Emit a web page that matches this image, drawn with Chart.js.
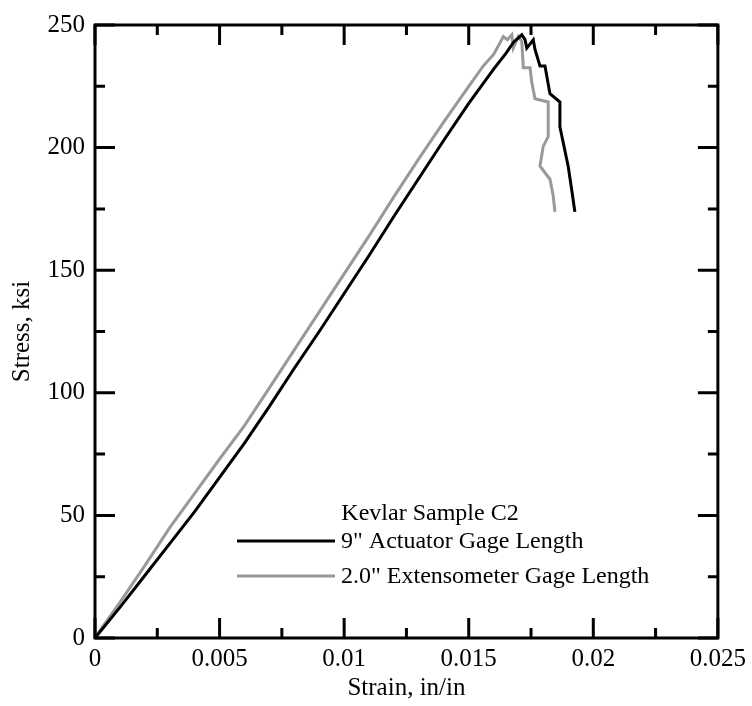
<!DOCTYPE html>
<html>
<head>
<meta charset="utf-8">
<script src="https://cdn.jsdelivr.net/npm/chart.js@4.4.1/dist/chart.umd.min.js"></script>
<style>
  html, body { margin: 0; padding: 0; background: #fff; }
  #wrap { width: 752px; height: 706px; position: relative; }
</style>
</head>
<body>
<div id="wrap"><canvas id="myChart"></canvas></div>
<script>
// Kevlar sample C2 - stress/strain from two gage lengths
const strainActuator = [0, 0.001, 0.002, 0.003, 0.004, 0.005, 0.006, 0.007, 0.008, 0.009, 0.010,
    0.011, 0.012, 0.013, 0.014, 0.015, 0.016, 0.0165, 0.0168, 0.01713, 0.01726, 0.01733, 0.01759,
    0.01766, 0.01786, 0.01806, 0.01826, 0.01866, 0.01866, 0.01899, 0.01913, 0.01926];
const stressActuator = [0, 12.5, 25.5, 38.5, 51.5, 65.5, 79.5, 94.5, 110, 125, 140.5,
    156, 172, 187.5, 203, 218, 232, 238.5, 243, 246, 244, 240.6, 244,
    240, 233.3, 233.3, 222, 218.6, 208.5, 192.5, 183, 173.8];

const strainExtenso = [0, 0.0003, 0.001, 0.002, 0.003, 0.004, 0.005, 0.006, 0.007, 0.008, 0.009,
    0.010, 0.011, 0.012, 0.013, 0.014, 0.015, 0.0156, 0.0160, 0.01639, 0.01655, 0.01673, 0.01679,
    0.01699, 0.01713, 0.01719, 0.01746, 0.01753, 0.01766, 0.01819, 0.01819, 0.01799, 0.01786,
    0.01826, 0.01839, 0.01846];
const stressExtenso = [0, 4.5, 14.5, 29.5, 45, 59, 73, 86.6, 102, 117.5, 133,
    148.5, 164, 180, 195.5, 210.5, 225, 233.5, 238, 245.3, 244, 246, 240.6,
    245.3, 243.3, 232.6, 232.6, 226.6, 219.9, 218.6, 204.5, 200.5, 192.5,
    187.1, 180.5, 173.8];

const legendTitle = "Kevlar Sample C2";
const seriesLabels = ['9" Actuator Gage Length', '2.0" Extensometer Gage Length'];
const seriesColors = ['#000000', '#999999'];

const xTicks = { min: 0, max: 0.025, step: 0.005 };
const yTicks = { min: 0, max: 250, step: 50 };

const serif = "'Liberation Serif', 'Times New Roman', serif";

function toPoints(xs, ys) {
    return xs.map((x, i) => ({ x: x, y: ys[i] }));
}

// frame box with inward ticks on all four sides
const framePlugin = {
    id: 'frame',
    afterDraw(chart) {
        const ctx = chart.ctx;
        const a = chart.chartArea;
        const xs = chart.scales.x, ys = chart.scales.y;
        ctx.save();
        ctx.strokeStyle = '#000';
        ctx.lineWidth = 3;
        ctx.lineCap = 'butt';
        ctx.strokeRect(a.left, a.top, a.right - a.left, a.bottom - a.top);

        const half = xTicks.step / 2;
        for (let v = xTicks.min; v <= xTicks.max + 1e-9; v += half) {
            const major = Math.abs(Math.round(v / xTicks.step) * xTicks.step - v) < 1e-9;
            const len = major ? 20 : 10;
            const px = xs.getPixelForValue(v);
            ctx.beginPath();
            ctx.moveTo(px, a.bottom); ctx.lineTo(px, a.bottom - len);
            ctx.moveTo(px, a.top); ctx.lineTo(px, a.top + len);
            ctx.stroke();
        }
        const halfY = yTicks.step / 2;
        for (let v = yTicks.min; v <= yTicks.max + 1e-9; v += halfY) {
            const major = v % yTicks.step === 0;
            const len = major ? 20 : 10;
            const py = ys.getPixelForValue(v);
            ctx.beginPath();
            ctx.moveTo(a.left, py); ctx.lineTo(a.left + len, py);
            ctx.moveTo(a.right, py); ctx.lineTo(a.right - len, py);
            ctx.stroke();
        }
        ctx.restore();
    }
};

// legend box drawn inside the plot, lower right
const legendPlugin = {
    id: 'innerLegend',
    afterDraw(chart) {
        const ctx = chart.ctx;
        const a = chart.chartArea;
        const lineX0 = a.left + 142, lineX1 = a.left + 240;
        const textX = lineX1 + 6;
        const titleY = a.bottom - 124;
        ctx.save();
        ctx.font = '24px ' + serif;
        ctx.fillStyle = '#000';
        ctx.textBaseline = 'middle';
        ctx.textAlign = 'center';
        ctx.fillText(legendTitle, a.left + 335, titleY);
        ctx.textAlign = 'left';
        chart.data.datasets.forEach((ds, i) => {
            const y = titleY + 27 + i * 35;
            ctx.strokeStyle = ds.borderColor;
            ctx.lineWidth = 3;
            ctx.beginPath();
            ctx.moveTo(lineX0, y); ctx.lineTo(lineX1, y);
            ctx.stroke();
            ctx.fillStyle = '#000';
            ctx.fillText(ds.label, textX, y + 1);
        });
        ctx.restore();
    }
};

const ctx = document.getElementById('myChart').getContext('2d');
const myChart = new Chart(ctx, {
    type: 'scatter',
    data: {
        datasets: [
            {
                label: seriesLabels[0],
                data: toPoints(strainActuator, stressActuator),
                borderColor: seriesColors[0],
                borderWidth: 3,
                showLine: true,
                pointRadius: 0,
                tension: 0
            },
            {
                label: seriesLabels[1],
                data: toPoints(strainExtenso, stressExtenso),
                borderColor: seriesColors[1],
                borderWidth: 3,
                showLine: true,
                pointRadius: 0,
                tension: 0
            }
        ]
    },
    options: {
        responsive: true,
        maintainAspectRatio: false,
        animation: false,
        layout: { padding: { top: 15, right: 34, left: 0, bottom: 0 } },
        plugins: {
            legend: { display: false },
            tooltip: { enabled: false }
        },
        scales: {
            x: {
                type: 'linear',
                min: xTicks.min,
                max: xTicks.max,
                grid: { display: false, drawTicks: false },
                border: { display: false },
                ticks: {
                    stepSize: xTicks.step,
                    padding: 6,
                    color: '#000',
                    font: { family: serif, size: 25 },
                    callback: (value) => String(parseFloat(value.toFixed(4)))
                },
                title: {
                    display: true,
                    text: 'Strain, in/in',
                    color: '#000',
                    font: { family: serif, size: 25 },
                    padding: { top: 0, bottom: 3 }
                },
                afterFit: (scale) => { scale.height = 68; }
            },
            y: {
                type: 'linear',
                min: yTicks.min,
                max: yTicks.max,
                grid: { display: false, drawTicks: false },
                border: { display: false },
                ticks: {
                    stepSize: yTicks.step,
                    padding: 10,
                    color: '#000',
                    font: { family: serif, size: 25 }
                },
                title: {
                    display: true,
                    text: 'Stress, ksi',
                    color: '#000',
                    font: { family: serif, size: 25 },
                    padding: { top: 7, bottom: 0 }
                },
                afterFit: (scale) => { scale.width = 95; }
            }
        }
    },
    plugins: [framePlugin, legendPlugin]
});
</script>
</body>
</html>
